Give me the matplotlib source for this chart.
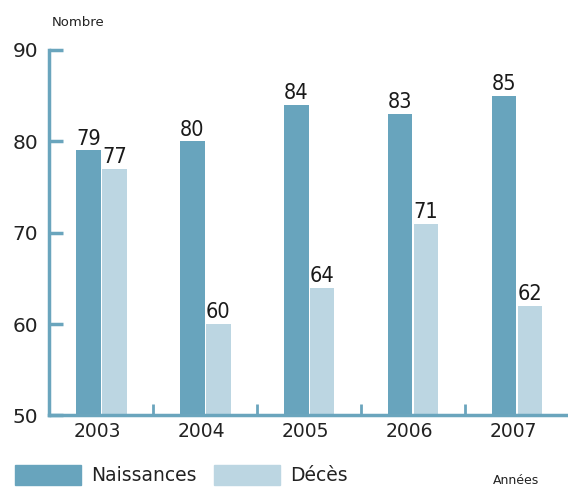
import numpy as np
import matplotlib.pyplot as plt
from matplotlib.patches import Patch

# Data
years = ['2003', '2004', '2005', '2006', '2007']
naissances = [79, 80, 84, 83, 85]
deces = [77, 60, 64, 71, 62]

dark = '#68a4bd'
light = '#bcd6e2'
axis_col = '#6aa5bd'

fig = plt.figure(figsize=(5.68, 4.88), dpi=100)
ax = fig.add_axes([0.0863, 0.1486, 0.9137, 0.749])

x = np.arange(len(years))
w = 0.235
ax.bar(x - 0.125, naissances, w, color=dark)
ax.bar(x + 0.125, deces, w, color=light)

for xi, v in zip(x, naissances):
    ax.text(xi - 0.125, v + 0.2, str(v), ha='center', va='bottom',
            fontsize=15.5, fontstretch='condensed', color='#1a1a1a')
for xi, v in zip(x, deces):
    ax.text(xi + 0.125, v + 0.2, str(v), ha='center', va='bottom',
            fontsize=15.5, fontstretch='condensed', color='#1a1a1a')

ax.set_ylim(50, 90)
ax.set_xlim(-0.505, 4.49)
ax.set_yticks([50, 60, 70, 80, 90])
ax.tick_params(axis='y', direction='in', length=10, width=2.5, color=axis_col,
               labelsize=14.5, pad=8, labelcolor='#222222')

# ticks between groups, year labels at group centres
ax.set_xticks(x[:-1] + 0.5)
ax.set_xticklabels([])
ax.tick_params(axis='x', direction='in', length=8, width=2, color=axis_col)
for xi, yr in zip(x, years):
    ax.text(xi - 0.04, 48.2, yr, ha='center', va='center', fontsize=13.5,
            color='#222222', transform=ax.transData)

for s in ['top', 'right']:
    ax.spines[s].set_visible(False)
for s in ['left', 'bottom']:
    ax.spines[s].set_color(axis_col)
    ax.spines[s].set_linewidth(2.5)

fig.text(52 / 568, 1 - 22 / 488, 'Nombre', fontsize=9.5, color='#222222', va='center')
fig.text(493 / 568, 1 - 480 / 488, 'Années', fontsize=9, color='#222222', va='center')

handles = [Patch(color=dark, label='Naissances'), Patch(color=light, label='Décès')]
fig.legend(handles=handles, loc='lower left', bbox_to_anchor=(15 / 568, 3 / 488), ncol=2,
           frameon=False, fontsize=13.5, handlelength=3.5, handleheight=1.25,
           handletextpad=0.55, columnspacing=0.95, borderpad=0, borderaxespad=0,
           labelcolor='#222222')

fig.savefig('out.png', dpi=100)
